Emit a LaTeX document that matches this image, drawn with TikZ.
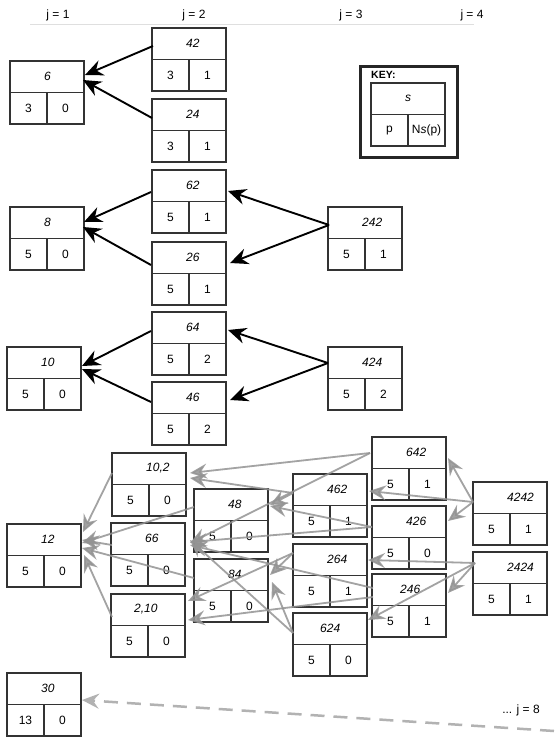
\documentclass[tikz,border=0pt]{standalone}
\usepackage{fontspec}
\setmainfont{Liberation Sans}
\usetikzlibrary{arrows.meta,calc}
\tikzset{
  cellbox/.style={draw=black!80, fill=white, line width=1.1pt, minimum width=74pt, minimum height=63pt, inner sep=0pt, outer sep=0pt},
  cellline/.style={draw=black!80, line width=1.1pt},
  slabel/.style={font=\itshape, inner sep=0pt, anchor=west},
  plabel/.style={inner sep=0pt},
  blk/.style={draw=black, line width=1.9pt, -{Stealth[length=18pt,width=16pt,inset=6pt]}},
  gry/.style={draw=gray!85, line width=1.8pt, opacity=0.85, -{Stealth[length=17pt,width=15pt,inset=6pt]}},
  dsh/.style={draw=gray!60, line width=2.5pt, dash pattern=on 14pt off 9pt, -{Stealth[length=17pt,width=15pt,inset=6pt]}},
  hdr/.style={inner sep=0pt},
}
\newcommand\cbox[7][34]{%
  \node[cellbox, anchor=north west] (#2) at (#3,#4) {};
  \draw[cellline] (#2.west) -- (#2.east) (#2.center) -- (#2.south);
  \node[slabel] (#2s) at ($(#2.north west)+(#1,15.5)$) {#5};
  \node[plabel] (#2p) at ($(#2.south west)+(18.5,-15.5)$) {#6};
  \node[plabel] (#2n) at ($(#2.south east)+(-18.5,-15.5)$) {#7};
}
\begin{document}
\fontsize{12}{14}\selectfont
\begin{tikzpicture}[x=1pt,y=-1pt]
\useasboundingbox (0,0) rectangle (554,754);
\fill[white] (0,0) rectangle (554,754);
% header
\node[hdr] (j1) at (58,15) {j = 1};
\node[hdr] (j2) at (194,15) {j = 2};
\node[hdr] (j3) at (351,15) {j = 3};
\node[hdr] (j4) at (472,15) {j = 4};
\coordinate (hl) at (30,25);
\coordinate (hr) at (474,25);
\draw[gray!25, line width=1pt] (hl) -- (hr);
% boxes
\cbox{n6}{10}{61}{6}{3}{0}
\cbox{n42}{152}{28}{42}{3}{1}
\cbox{n24}{152}{99}{24}{3}{1}
\cbox{n62}{152}{170}{62}{5}{1}
\cbox{n8}{10}{207}{8}{5}{0}
\cbox{n26}{152}{242}{26}{5}{1}
\cbox{n242}{328}{207}{242}{5}{1}
\cbox{n64}{152}{312}{64}{5}{2}
\cbox{n10}{7}{347}{10}{5}{0}
\cbox{n46}{152}{382}{46}{5}{2}
\cbox{n424}{328}{347}{424}{5}{2}
\cbox{n102}{112}{453}{10,2}{5}{0}
\cbox{n12}{7}{524}{12}{5}{0}
\cbox{n66}{111}{523}{66}{5}{0}
\cbox{n48}{194}{489}{48}{5}{0}
\cbox{n84}{194}{559}{84}{5}{0}
\cbox[23]{n210}{111}{594}{2,10}{5}{0}
\cbox{n642}{372}{437}{642}{5}{1}
\cbox{n462}{293}{474}{462}{5}{1}
\cbox{n426}{372}{506}{426}{5}{0}
\cbox{n4242}{473}{482}{4242}{5}{1}
\cbox{n264}{293}{544}{264}{5}{1}
\cbox[28]{n246}{372}{574}{246}{5}{1}
\cbox{n2424}{473}{552}{2424}{5}{1}
\cbox[27]{n624}{293}{613}{624}{5}{0}
\cbox{n30}{7}{673}{30}{13}{0}
% key
\node[draw=black!85, line width=3pt, minimum width=97pt, minimum height=91pt, inner sep=0pt, anchor=north west] (key) at (359,65) {};
\node[inner sep=0pt, anchor=west, font=\bfseries\fontsize{10.5}{12}\selectfont] (keylabel) at (371,75) {KEY:};
\cbox{keycell}{371}{83}{s}{p}{N{\itshape s}(p)}
% black arrows
\draw[blk] ($(n42.north west)+(1,18)$) -- ($(n6.north east)+(1,14)$);
\draw[blk] ($(n24.north west)+(0,19)$) -- ($(n6.north east)+(-1,19)$);
\draw[blk] ($(n62.north west)+(-1,22)$) -- ($(n8.north east)+(0,15)$);
\draw[blk] ($(n26.north west)+(-1,23)$) -- ($(n8.north east)+(-1,20)$);
\draw[blk] ($(n242.north west)+(1,18)$) -- ($(n62.north east)+(2,21)$);
\draw[blk] ($(n242.north west)+(1,18)$) -- ($(n26.north east)+(4,21)$);
\draw[blk] ($(n64.north west)+(-1,19)$) -- ($(n10.north east)+(1,19)$);
\draw[blk] ($(n46.north west)+(-1,20)$) -- ($(n10.north east)+(1,22)$);
\draw[blk] ($(n424.north west)+(0,16)$) -- ($(n64.north east)+(2,18)$);
\draw[blk] ($(n424.north west)+(0,16)$) -- ($(n46.north east)+(4,18)$);
% gray arrows
\draw[gry] ($(n102.north west)+(0,20)$) -- ($(n12.north east)+(2,8)$);
\draw[gry] ($(n66.north west)+(1,22)$) -- ($(n12.north east)+(1,16)$);
\draw[gry] ($(n48.north west)+(0,18)$) -- ($(n12.north east)+(1,19)$);
\draw[gry] ($(n84.north west)+(0,19)$) -- ($(n12.north east)+(1,24)$);
\draw[gry] ($(n210.north west)+(1,23)$) -- ($(n12.north east)+(3,31)$);
\draw[gry] ($(n642.north west)+(-2,16)$) -- ($(n102.north east)+(4,20)$);
\draw[gry] ($(n462.north west)+(0,19)$) -- ($(n102.north east)+(4,25)$);
\draw[gry] ($(n642.north west)+(-2,16)$) -- ($(n66.north east)+(5,20)$);
\draw[gry] ($(n426.north west)+(0,21)$) -- ($(n66.north east)+(5,19)$);
\draw[gry] ($(n246.north west)+(1,14)$) -- ($(n66.north east)+(5,22)$);
\draw[gry] ($(n624.north west)+(0,20)$) -- ($(n66.north east)+(5,17)$);
\draw[gry] ($(n462.north west)+(0,19)$) -- ($(n48.north east)+(2,16)$);
\draw[gry] ($(n426.north west)+(0,21)$) -- ($(n48.north east)+(2,17)$);
\draw[gry] ($(n264.north west)+(0,9)$) -- ($(n84.north east)+(2,16)$);
\draw[gry] ($(n624.north west)+(0,20)$) -- ($(n84.north east)+(4,23)$);
\draw[gry] ($(n264.north west)+(0,9)$) -- ($(n210.north east)+(3,7)$);
\draw[gry] ($(n246.north west)+(1,23)$) -- ($(n210.north east)+(3,26)$);
\draw[gry] ($(n4242.north west)+(0,20)$) -- ($(n642.north east)+(2,21)$);
\draw[gry] ($(n4242.north west)+(0,20)$) -- ($(n426.north east)+(2,15)$);
\draw[gry] ($(n4242.north west)+(0,20)$) -- ($(n462.north east)+(2,17)$);
\draw[gry] ($(n2424.north west)+(2,11)$) -- ($(n624.north east)+(1,7)$);
\draw[gry] ($(n2424.north west)+(2,11)$) -- ($(n246.north east)+(2,19)$);
\draw[gry] ($(n2424.north west)+(2,11)$) -- ($(n264.north east)+(1,16)$);
% dashed
\coordinate (far) at (554,731);
\draw[dsh] (far) -- ($(n30.north east)+(1,27)$);
\node[hdr] (j8) at (521,710) {... j = 8};
\end{tikzpicture}
\end{document}
